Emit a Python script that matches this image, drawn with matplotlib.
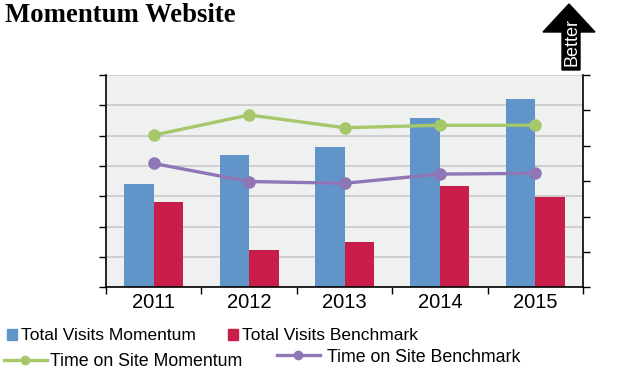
import matplotlib
matplotlib.use('Agg')
import matplotlib.pyplot as plt
from matplotlib.patches import Polygon, Patch
from matplotlib.lines import Line2D
import numpy as np

plt.rcParams['font.family'] = ['Liberation Sans', 'DejaVu Sans']

years = ['2011', '2012', '2013', '2014', '2015']
visits_momentum = [3.41, 4.36, 4.63, 5.58, 6.21]
visits_benchmark = [2.81, 1.23, 1.49, 3.34, 2.98]
time_momentum = [4.30, 4.87, 4.51, 4.58, 4.58]
time_benchmark = [3.50, 2.99, 2.94, 3.20, 3.22]

blue = '#6194c8'
red = '#c91d4a'
green = '#a6c86a'
purple = '#8f76b5'

W, H = 624, 378
fig = plt.figure(figsize=(6.24, 3.78), dpi=100)
ax = fig.add_axes([106 / W, 1 - 287.3 / H, 477 / W, 212.3 / H])
ax.set_facecolor('#eff1f0')

x = np.arange(len(years))
w = 0.31
ax.bar(x - w / 2, visits_momentum, w, color=blue, zorder=2)
ax.bar(x + w / 2, visits_benchmark, w, color=red, zorder=2)

ax.set_xlim(-0.5, len(years) - 0.5)
ax.set_ylim(0, 7)
ax.set_yticks(range(8))
ax.set_yticklabels([])
ax.grid(axis='y', color='#c9c9c9', linewidth=1.2, zorder=1)
ax.set_axisbelow(True)

ax.set_xticks(x)
ax.set_xticklabels(years, fontsize=14.5)
ax.set_xticks(np.arange(len(years) + 1) - 0.5, minor=True)
ax.tick_params(axis='x', which='major', length=0, pad=4)
ax.tick_params(axis='x', which='minor', length=5, width=1, direction='out')
ax.tick_params(axis='y', length=5, width=1, direction='out')

ax.spines['top'].set_visible(False)
ax.spines['right'].set_visible(False)
ax.spines['left'].set_linewidth(1.2)
ax.spines['bottom'].set_linewidth(1.2)

ax2 = ax.twinx()
ax2.plot(x, time_momentum, color=green, linewidth=2.4, marker='o', markersize=8, zorder=3)
ax2.plot(x, time_benchmark, color=purple, linewidth=2.4, marker='o', markersize=8, zorder=3)
ax2.set_ylim(0, 6)
ax2.set_yticks(range(7))
ax2.set_yticklabels([])
ax2.tick_params(axis='y', length=5, width=1, direction='out')
ax2.spines['top'].set_visible(False)
ax2.spines['left'].set_visible(False)
ax2.spines['bottom'].set_visible(False)
ax2.spines['right'].set_linewidth(1.2)

fig.text(5 / W, 1 - 15 / H, 'Momentum Website', family='Liberation Serif',
         fontweight='bold', fontsize=19.3, va='center', ha='left')

# "Better" arrow in the top right corner
arrow = [(569, 4), (595, 32), (580, 32), (580, 70), (562, 70), (562, 32), (543, 32)]
fig.patches.append(Polygon([(px / W, 1 - py / H) for px, py in arrow],
                           closed=True, facecolor='black', edgecolor='black',
                           transform=fig.transFigure, figure=fig))
fig.text(571.5 / W, 1 - 42 / H, 'Better', color='white', rotation=90,
         fontsize=13, ha='center', va='center')


def legend_entry(handle, label, px, py, hlen, hheight=0.7, size=12.5, pad=0.2):
    leg = fig.legend([handle], [label], loc='center left',
                     bbox_to_anchor=(px / W, 1 - py / H), frameon=False,
                     fontsize=size, handlelength=hlen, handleheight=hheight,
                     handletextpad=pad, borderaxespad=0, borderpad=0)
    return leg


legend_entry(Patch(color=blue), 'Total Visits Momentum', 7, 336, 0.58, 0.58)
legend_entry(Patch(color=red), 'Total Visits Benchmark', 228, 336, 0.58, 0.58)
legend_entry(Line2D([], [], color=green, linewidth=2.4, marker='o', markersize=6),
             'Time on Site Momentum', 4, 362, 2.4, size=12.8)
legend_entry(Line2D([], [], color=purple, linewidth=2.4, marker='o', markersize=6),
             'Time on Site Benchmark', 277, 357, 2.4, size=12.8, pad=0.4)

fig.savefig('out.png', dpi=100)
